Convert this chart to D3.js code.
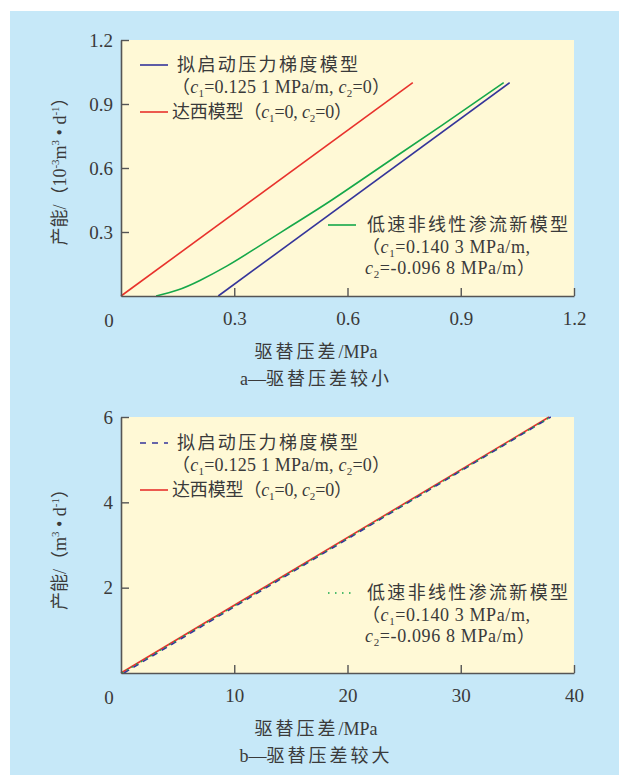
<!DOCTYPE html>
<html><head><meta charset="utf-8">
<script src="https://cdn.jsdelivr.net/npm/d3@7"></script>
<style>
body{margin:0;background:#fff;}
text{fill:#3a3a3a;}
.num{font-family:"Liberation Serif","DejaVu Serif",serif;}
.cjk{font-family:"Liberation Serif","Noto Sans CJK SC",serif;}
</style></head><body>
<svg id="c" width="619" height="775"></svg>
<script>
// ---- data ----
const seriesNames = ["拟启动压力梯度模型", "达西模型", "低速非线性渗流新模型"];
const colors = ["#35359a", "#e8322c", "#16a84a"];
// chart a (small pressure difference), x MPa, y 10^-3 m3/d
const aPseudoX = [0.2576, 1.0296];
const aPseudoY = [0, 1.0];
const aDarcyX = [0, 0.773];
const aDarcyY = [0, 1.0];
const aNewX = [0.093, 0.15, 0.209, 0.28, 0.35, 0.45, 0.5585, 0.7, 0.85, 1.0138];
const aNewY = [0, 0.028, 0.073, 0.14, 0.216, 0.328, 0.45, 0.62, 0.80, 1.0];
const aXTicks = [0.3, 0.6, 0.9, 1.2];
const aYTicks = [0.3, 0.6, 0.9, 1.2];
// chart b (large pressure difference), x MPa, y m3/d
const bPseudoX = [0.26, 37.95];
const bPseudoY = [0, 6];
const bDarcyX = [0, 37.8];
const bDarcyY = [0, 6];
const bNewX = [0.09, 37.9];
const bNewY = [0, 6];
const bXTicks = [10, 20, 30, 40];
const bYTicks = [2, 4, 6];

const svg = d3.select("#c");
svg.append("rect").attr("x",10).attr("y",11).attr("width",609).attr("height",764).attr("fill","#c6e8f8");

const L = 121, R = 574, W = R - L, H = 256;

function zip(xs, ys){ return xs.map((x,i)=>[x, ys[i]]); }

function subText(g, x, y, parts, opts){
  // parts: [text, type] type: n normal, i italic, s subscript, u superscript, c spaced CJK
  const t = g.append("text").attr("x",x).attr("y",y).attr("class","cjk")
    .style("font-size", (opts&&opts.size||17)+"px");
  if (opts && opts.anchor) t.attr("text-anchor", opts.anchor);
  if (opts && opts.transform) t.attr("transform", opts.transform);
  if (opts && opts.len) t.attr("textLength", opts.len).attr("lengthAdjust","spacing");
  let shift = 0;
  parts.forEach(([s, ty])=>{
    const ts = t.append("tspan").text(s);
    let target = 0;
    if (ty==="i") ts.style("font-style","italic");
    if (ty==="c") ts.style("letter-spacing","3px");
    if (ty==="s"){ ts.style("font-size","11px"); target = 4; }
    if (ty==="u"){ ts.style("font-size","11px"); target = -7; }
    if (target !== shift){ ts.attr("dy", target - shift); shift = target; }
  });
  return t;
}

function chart(top, xMax, yMax, xTicks, yTicks, series, legend, titleParts, subParts, yTitleParts, yTitleY){
  const g = svg.append("g");
  const x = d3.scaleLinear().domain([0,xMax]).range([L,R]);
  const y = d3.scaleLinear().domain([0,yMax]).range([top+H, top]);
  g.append("rect").attr("x",L).attr("y",top).attr("width",W).attr("height",H).attr("fill","#fff9d6");

  series.forEach(s=>{
    const ln = d3.line().x(d=>x(d[0])).y(d=>y(d[1])).curve(s.curve ? d3.curveNatural : d3.curveLinear);
    g.append("path").attr("d", ln(s.data))
      .attr("fill","none").attr("stroke",s.color).attr("stroke-width",1.6)
      .attr("stroke-dasharray", s.dash||null);
  });

  const xa = g.append("g").attr("transform",`translate(0,${top+H})`)
    .call(d3.axisBottom(x).tickValues(xTicks).tickSize(-8).tickSizeOuter(0).tickPadding(16).tickFormat(d3.format("")));
  const ya = g.append("g").attr("transform",`translate(${L},0)`)
    .call(d3.axisLeft(y).tickValues(yTicks).tickSize(-8).tickSizeOuter(0).tickPadding(8).tickFormat(d3.format("")));
  [xa, ya].forEach(a=>{
    a.select(".domain").attr("stroke","#555").attr("stroke-width",1.6);
    a.selectAll(".tick line").attr("stroke","#555").attr("stroke-width",1.4);
    a.selectAll("text").attr("class","num").style("font-size","19px").attr("fill","#3a3a3a").attr("font-family",null);
  });
  g.append("text").attr("class","num").attr("x",109).attr("y",top+H+31).attr("text-anchor","middle")
    .style("font-size","19px").text("0");

  legend.forEach(l=>{
    g.append("line").attr("x1",l.lx).attr("x2",l.lx+28).attr("y1",l.y).attr("y2",l.y)
      .attr("stroke",l.color).attr("stroke-width",1.6).attr("stroke-dasharray",l.dash||null);
    l.lines.forEach((ln,i)=>{
      subText(g, ln.x, l.y + 6 + i*21.5, ln.parts, {size:18, len: ln.len});
    });
  });

  subText(g, 316, top+H+62, titleParts, {size:18, anchor:"middle"});
  subText(g, 316, top+H+89, subParts, {size:18, anchor:"middle"});
  subText(g, 0, 0, yTitleParts, {size:18, anchor:"middle", transform:`translate(66,${yTitleY}) rotate(-90)`});
}

const leg1 = {color:colors[0], lx:140, lines:[
  {x:177, parts:[[seriesNames[0],"n"]], len:181},
  {x:172, parts:[["（","n"],["c","i"],["1","s"],["=0.125 1 MPa/m, ","n"],["c","i"],["2","s"],["=0）","n"]], len:218}]};
const leg2 = {color:colors[1], lx:140, lines:[
  {x:172, parts:[["达西模型（","n"],["c","i"],["1","s"],["=0, ","n"],["c","i"],["2","s"],["=0）","n"]], len:180}]};
const leg3 = {color:colors[2], lx:328, lines:[
  {x:367, parts:[[seriesNames[2],"n"]], len:201},
  {x:362, parts:[["（","n"],["c","i"],["1","s"],["=0.140 3 MPa/m,","n"]], len:168},
  {x:365, parts:[["c","i"],["2","s"],["=-0.096 8 MPa/m）","n"]], len:170}]};

function legendAt(y1, y2, y3, dashes){
  return [
    Object.assign({}, leg1, {y:y1, dash:dashes[0]}),
    Object.assign({}, leg2, {y:y2, dash:dashes[1]}),
    Object.assign({}, leg3, {y:y3, dash:dashes[2]})
  ];
}

chart(40, 1.2, 1.2, aXTicks, aYTicks, [
  {data:zip(aDarcyX,aDarcyY), color:colors[1]},
  {data:zip(aPseudoX,aPseudoY), color:colors[0]},
  {data:zip(aNewX,aNewY), color:colors[2], curve:true}
], legendAt(65, 112, 225, [null,null,null]),
 [["驱替压差","c"],["/MPa","n"]], [["a—","n"],["驱替压差较小","c"]],
 [["产能/（10","n"],["-3","u"],["m","n"],["3","u"],[" • d","n"],["-1","u"],["）","n"]], 167);

chart(417, 40, 6, bXTicks, bYTicks, [
  {data:zip(bDarcyX,bDarcyY), color:colors[1]},
  {data:zip(bPseudoX,bPseudoY), color:colors[0], dash:"6,5"},
  {data:zip(bNewX,bNewY), color:colors[2], dash:"1.5,4"}
], legendAt(443, 490, 593, ["6,6",null,"1.5,5.5"]),
 [["驱替压差","c"],["/MPa","n"]], [["b—","n"],["驱替压差较大","c"]],
 [["产能/（m","n"],["3","u"],[" • d","n"],["-1","u"],["）","n"]], 545);
</script></body></html>
